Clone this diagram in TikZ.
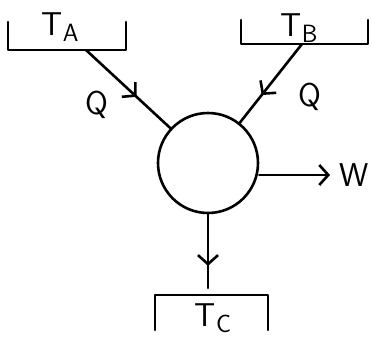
\documentclass[tikz,border=0pt]{standalone}
\usetikzlibrary{arrows.meta,decorations.markings}
\tikzset{
  wire/.style={line width=2.6pt, line cap=round, line join=round},
  midarrow/.style={postaction={decorate}, decoration={markings,
      mark=at position #1 with {\arrow{Straight Barb[length=9pt,width=20pt]}}}},
  lbl/.style={font=\sffamily\fontsize{33}{36}\selectfont, inner sep=0pt},
}
\newcommand{\tsub}[1]{T\raisebox{-0.45ex}{\fontsize{25}{27}\selectfont #1}}

\begin{document}
\begin{tikzpicture}[x=1pt, y=-1pt]
  \useasboundingbox (0,0) rectangle (372,343);
  % reservoirs
  \node[lbl] (TA) at (60,27) {\tsub{A}};
  \node[lbl] (TB) at (299,28) {\tsub{B}};
  \node[lbl] (TC) at (213,318) {\tsub{C}};
  \draw[wire] (8,22) -- (8,50) -- (126,50) -- (126,22);
  \draw[wire] (241,20) -- (241,44) -- (368,44) -- (368,20);
  \draw[wire] (155,330) -- (155,295) -- (268,295) -- (268,330);
  \coordinate (ta) at (86,50);
  \coordinate (tb) at (302,44);
  \coordinate (tc) at (208,288);
  % engine
  \node[wire, draw, circle, minimum size=100pt] (eng) at (208,163) {};
  \coordinate (w) at (330,175);
  \node[lbl] (W) at (354,175) {W};
  \node[lbl] (QA) at (97,105) {Q};
  \node[lbl] (QB) at (310,97) {Q};
  \draw[wire, midarrow=0.6] (ta) -- (eng);
  \draw[wire, midarrow=0.65] (tb) -- (eng);
  \draw[wire, midarrow=0.7] (eng) -- (tc);
  \draw[wire, -{Straight Barb[length=9pt,width=20pt]}] (eng.east |- w) -- (w);
\end{tikzpicture}
\end{document}
